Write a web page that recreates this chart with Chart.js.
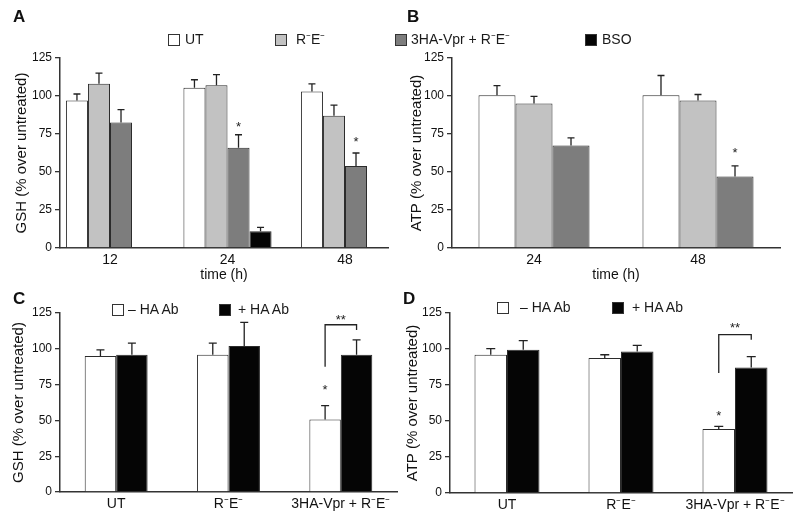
<!DOCTYPE html>
<html>
<head>
<meta charset="utf-8">
<script src="https://cdn.jsdelivr.net/npm/chart.js@4/dist/chart.umd.min.js"></script>
<style>
  body { margin: 0; background: #fff; font-family: "Liberation Sans", Arial, sans-serif; }
  #wrap { position: relative; width: 800px; height: 525px; overflow: hidden; }
  canvas { position: absolute; }
  .letter { position: absolute; font-weight: bold; font-size: 17px; line-height: 17px; color: #111; }
  .leg { position: absolute; font-size: 14px; line-height: 14px; color: #1a1a1a; white-space: nowrap; }
  .box { position: absolute; width: 10px; height: 10px; border: 1px solid #333; }
</style>
</head>
<body>
<div id="wrap">
  <canvas id="chartA" width="400" height="290" style="left:0;top:0"></canvas>
  <canvas id="chartB" width="400" height="290" style="left:400px;top:0"></canvas>
  <canvas id="chartC" width="400" height="235" style="left:0;top:290px"></canvas>
  <canvas id="chartD" width="400" height="235" style="left:400px;top:290px"></canvas>
</div>
<script>
// Panel A: GSH over time
const timeA = ['12', '24', '48'];
const gshUT = [97, 105.5, 103];
const gshUTErr = [4.3, 5.2, 5];
const gshRE = [108, 107, 87];
const gshREErr = [7, 7, 7];
const gshVpr = [82.6, 66, 54];
const gshVprErr = [8.4, 8.5, 8.5];
const gshBSO = [null, 11, null];
const gshBSOErr = [null, 2.6, null];
const gshVprStars = [null, 81.8, 71.9];

// Panel B: ATP over time
const timeB = ['24', '48'];
const atpUT = [100.5, 100.5];
const atpUTErr = [6.3, 13];
const atpRE = [95, 97];
const atpREErr = [4.7, 4];
const atpVpr = [67.5, 47];
const atpVprErr = [5, 7];
const atpVprStars = [null, 64.7];

// Panels C and D: with / without HA antibody
const groups = ['UT', 'R⁻E⁻', '3HA-Vpr + R⁻E⁻'];
const gshNoAb = [95, 95.8, 50.7];
const gshNoAbErr = [4.3, 8.2, 9.6];
const gshAb = [95.8, 102, 95.8];
const gshAbErr = [8.2, 16.4, 10.5];
const gshNoAbStars = [null, null, 73.6];
const gshBracket = [116.8, 87.4, 113.2, 122.6]; // top, left end, right end, label level

const atpNoAb = [96, 93.7, 44.4];
const atpNoAbErr = [4.2, 2.3, 1.9];
const atpAb = [99.5, 98.3, 87.2];
const atpAbErr = [6.3, 4.2, 7.5];
const atpNoAbStars = [null, null, 55.6];
const atpBracket = [110, 83.3, 106.5, 116.9];

const yTicks = [0, 25, 50, 75, 100, 125];

const seriesTop = ['UT', 'R⁻E⁻', '3HA-Vpr + R⁻E⁻', 'BSO'];
const seriesAb = ['– HA Ab', '+ HA Ab'];

const WHITE = '#ffffff', LIGHT = '#c2c2c2', DARK = '#7d7d7d', BLACK = '#050505';
const AXIS = '#333';

Chart.defaults.font.family = '"Liberation Sans", Arial, sans-serif';
Chart.defaults.color = '#111';

function bars(label, values, errors, color, stars, xs) {
    return {
        label: label,
        backgroundColor: color,
        borderColor: '#2b2b2b',
        borderWidth: 1,
        data: xs ? values.map((v, i) => ({ x: xs[i], y: v })) : values,
        means: values,
        errors: errors,
        stars: stars || []
    };
}

function star(ctx, txt, x, yc) {
    // asterisk glyph sits high in the em box, shift baseline so it is centred on yc
    ctx.fillText(txt, x, yc + 7.5);
}

// Error bars, significance stars and brackets
function drawMarks(chart, o) {
    const ctx = chart.ctx;
    const y = chart.scales.y;
    ctx.save();
    ctx.strokeStyle = '#222';
    ctx.fillStyle = '#222';
    ctx.lineWidth = 1.3;
    ctx.font = '13px "Liberation Sans", Arial, sans-serif';
    ctx.textAlign = 'center';
    chart.data.datasets.forEach((ds, i) => {
        chart.getDatasetMeta(i).data.forEach((bar, j) => {
            const v = ds.means[j];
            const e = ds.errors[j];
            if (v == null) return;
            if (e != null) {
                const top = y.getPixelForValue(v + e);
                ctx.beginPath();
                ctx.moveTo(bar.x, bar.y);
                ctx.lineTo(bar.x, top);
                ctx.moveTo(bar.x - o.cap, top);
                ctx.lineTo(bar.x + o.cap, top);
                ctx.stroke();
            }
            if (ds.stars[j] != null) star(ctx, '*', bar.x, y.getPixelForValue(ds.stars[j]));
        });
    });
    if (o.bracket) {
        const [top, l, r, lab] = o.bracket;
        const a = chart.getDatasetMeta(0).data[2];
        const b = chart.getDatasetMeta(1).data[2];
        const yt = y.getPixelForValue(top);
        ctx.beginPath();
        ctx.moveTo(a.x, y.getPixelForValue(l));
        ctx.lineTo(a.x, yt);
        ctx.lineTo(b.x, yt);
        ctx.lineTo(b.x, y.getPixelForValue(r));
        ctx.stroke();
        star(ctx, '**', (a.x + b.x) / 2, y.getPixelForValue(lab));
    }
    ctx.restore();
}

function panel(id, o) {
    const xTicks = { color: '#111', font: { size: 14 }, padding: o.xPad };
    if (o.xCallback) xTicks.callback = o.xCallback;
    const x = Object.assign({
        grid: { display: false, drawTicks: false },
        border: { color: AXIS, width: 1.5 },
        ticks: xTicks,
        title: {
            display: !!o.xTitle, text: o.xTitle || '', color: '#111',
            font: { size: 14 }, padding: { top: 0, bottom: 6 }
        },
        afterFit: s => { s.height = o.xH; }
    }, o.x || {});
    return new Chart(document.getElementById(id), {
        type: 'bar',
        data: { labels: o.labels, datasets: o.datasets },
        options: {
            responsive: false,
            animation: false,
            layout: { padding: { top: o.top, right: o.right, left: 0, bottom: 0 } },
            plugins: { legend: { display: false }, tooltip: { enabled: false } },
            datasets: { bar: { categoryPercentage: o.cat, barPercentage: 1 } },
            scales: {
                x: x,
                y: {
                    min: 0,
                    max: 125,
                    afterBuildTicks: s => { s.ticks = yTicks.map(v => ({ value: v })); },
                    grid: { drawOnChartArea: false, drawTicks: true, tickLength: 5, color: AXIS, lineWidth: 1.3 },
                    border: { color: AXIS, width: 1.5 },
                    ticks: { color: '#111', font: { size: 12 }, padding: 3 },
                    title: {
                        display: true, text: o.yTitle, color: '#111',
                        font: { size: 15 }, padding: { top: o.yTitlePad, bottom: 0 }
                    },
                    afterFit: s => { s.width = o.yW; }
                }
            }
        },
        plugins: [{ id: 'marks', afterDatasetsDraw: chart => drawMarks(chart, o) }]
    });
}

const idxA = timeA.map((t, i) => i);

panel('chartA', {
    datasets: [
        bars(seriesTop[0], gshUT, gshUTErr, WHITE, null, idxA),
        bars(seriesTop[1], gshRE, gshREErr, LIGHT, null, idxA),
        bars(seriesTop[2], gshVpr, gshVprErr, DARK, gshVprStars, idxA),
        bars(seriesTop[3], gshBSO, gshBSOErr, BLACK, null, idxA)
    ],
    x: {
        type: 'linear', min: -0.4255, max: 2.366, offset: false,
        afterBuildTicks: s => { s.ticks = idxA.map(v => ({ value: v })); }
    },
    xCallback: v => timeA[v],
    xTitle: 'time (h)', yTitle: 'GSH (% over untreated)',
    top: 58, right: 12, yW: 60, xH: 42, xPad: 4, yTitlePad: 13, cat: 0.75, cap: 3.5
});

panel('chartB', {
    labels: timeB,
    datasets: [
        bars(seriesTop[0], atpUT, atpUTErr, WHITE),
        bars(seriesTop[1], atpRE, atpREErr, LIGHT),
        bars(seriesTop[2], atpVpr, atpVprErr, DARK, atpVprStars)
    ],
    xTitle: 'time (h)', yTitle: 'ATP (% over untreated)',
    top: 58, right: 20, yW: 52, xH: 42, xPad: 4, yTitlePad: 7.5, cat: 0.677, cap: 3.5
});

panel('chartC', {
    labels: groups,
    datasets: [
        bars(seriesAb[0], gshNoAb, gshNoAbErr, WHITE, gshNoAbStars),
        bars(seriesAb[1], gshAb, gshAbErr, BLACK)
    ],
    bracket: gshBracket,
    yTitle: 'GSH (% over untreated)',
    top: 23, right: 3, yW: 60, xH: 33, xPad: 4, yTitlePad: 10, cat: 0.56, cap: 4
});

panel('chartD', {
    labels: groups,
    datasets: [
        bars(seriesAb[0], atpNoAb, atpNoAbErr, WHITE, atpNoAbStars),
        bars(seriesAb[1], atpAb, atpAbErr, BLACK)
    ],
    bracket: atpBracket,
    yTitle: 'ATP (% over untreated)',
    top: 23, right: 8, yW: 50, xH: 32, xPad: 4, yTitlePad: 4, cat: 0.57, cap: 4.5
});

// HTML legends and panel letters
const wrap = document.getElementById('wrap');
function add(cls, x, y, html, style) {
    const el = document.createElement('div');
    el.className = cls;
    el.style.left = x + 'px';
    el.style.top = y + 'px';
    if (html) el.textContent = html;
    if (style) Object.assign(el.style, style);
    wrap.appendChild(el);
}
function legend(names, colors, boxX, textX, yc) {
    names.forEach((n, i) => {
        add('box', boxX[i], yc - 6, '', { background: colors[i] });
        add('leg', textX[i], yc - 8, n);
    });
}
legend(seriesTop, [WHITE, LIGHT, DARK, BLACK], [168, 275, 395, 585], [185, 296, 411, 602], 40);
legend(seriesAb, [WHITE, BLACK], [112, 219], [128, 238], 310);
legend(seriesAb, [WHITE, BLACK], [497, 612], [520, 632], 308);

add('letter', 13, 8, 'A');
add('letter', 407, 8, 'B');
add('letter', 13, 290, 'C');
add('letter', 403, 290, 'D');
</script>
</body>
</html>
